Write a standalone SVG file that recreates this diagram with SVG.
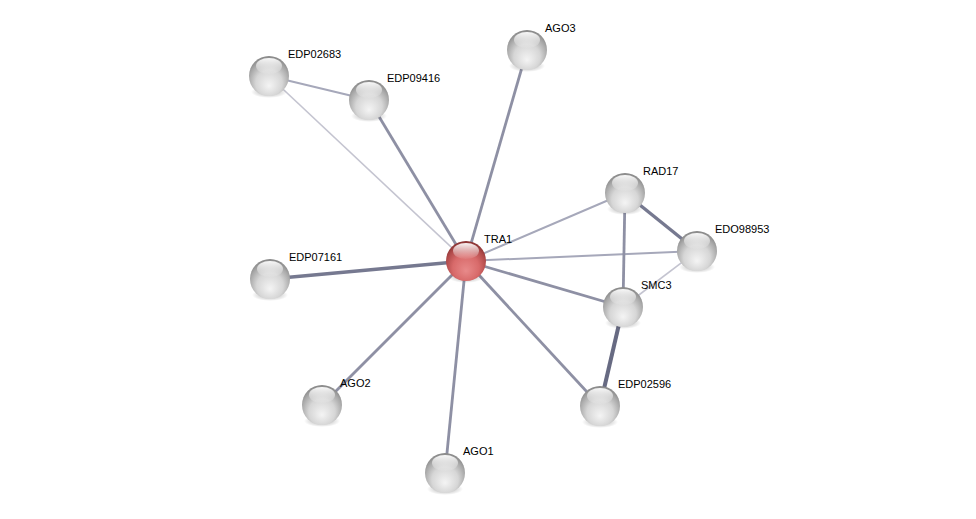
<svg xmlns="http://www.w3.org/2000/svg" width="976" height="519" viewBox="0 0 976 519">
<defs>
<radialGradient id="gw" cx="0.5" cy="0.62" r="0.6" fx="0.5" fy="0.75">
<stop offset="0" stop-color="#f4f4f4"/>
<stop offset="0.55" stop-color="#d6d6d6"/>
<stop offset="0.85" stop-color="#a8a8a8"/>
<stop offset="1" stop-color="#8a8a8a"/>
</radialGradient>
<radialGradient id="gr" cx="0.5" cy="0.62" r="0.6" fx="0.5" fy="0.75">
<stop offset="0" stop-color="#e88a8a"/>
<stop offset="0.55" stop-color="#d86a6a"/>
<stop offset="0.85" stop-color="#b04a4a"/>
<stop offset="1" stop-color="#8a3434"/>
</radialGradient>
<linearGradient id="hl" x1="0" y1="0" x2="0" y2="1">
<stop offset="0" stop-color="#ffffff" stop-opacity="0.95"/>
<stop offset="1" stop-color="#ffffff" stop-opacity="0.05"/>
</linearGradient>
<radialGradient id="sh" cx="0.5" cy="0.5" r="0.5">
<stop offset="0" stop-color="#000" stop-opacity="0.35"/>
<stop offset="1" stop-color="#000" stop-opacity="0"/>
</radialGradient>
</defs>
<style>
.lbl{font-family:"Liberation Sans",Arial,sans-serif;font-size:11px;fill:#000}
.e1{stroke:#c4c4d0;stroke-width:1.6;fill:none}
.e2{stroke:#a6a8ba;stroke-width:2;fill:none}
.e3{stroke:#8e90a4;stroke-width:2.8;fill:none}
.e4{stroke:#767990;stroke-width:3.4;fill:none}
.e5{stroke:#676a82;stroke-width:4;fill:none}
</style>
<rect width="976" height="519" fill="#ffffff"/>
<g id="edges">
<line class="e1" x1="466" y1="261" x2="269" y2="76"/>
<line class="e2" x1="269" y1="76" x2="369" y2="100"/>
<line class="e3" x1="466" y1="261" x2="369" y2="100"/>
<line class="e3" x1="466" y1="261" x2="527" y2="50"/>
<line class="e2" x1="466" y1="261" x2="625" y2="193"/>
<line class="e2" x1="466" y1="261" x2="697" y2="251"/>
<line class="e3" x1="466" y1="261" x2="623" y2="307"/>
<line class="e3" x1="466" y1="261" x2="600" y2="406"/>
<line class="e4" x1="466" y1="261" x2="270" y2="279"/>
<line class="e3" x1="466" y1="261" x2="322" y2="405"/>
<line class="e3" x1="466" y1="261" x2="445" y2="473"/>
<line class="e4" x1="625" y1="193" x2="697" y2="251"/>
<line class="e3" x1="625" y1="193" x2="623" y2="307"/>
<line class="e1" x1="623" y1="307" x2="697" y2="251"/>
<line class="e5" x1="623" y1="307" x2="600" y2="406"/>
</g>
<g id="AGO3"><ellipse cx="527" cy="66" rx="18" ry="6" fill="url(#sh)"/><circle cx="527" cy="50" r="20" fill="url(#gw)"/><ellipse cx="527" cy="40" rx="13" ry="8" fill="url(#hl)"/><text class="lbl" x="545" y="32">AGO3</text></g>
<g id="EDP02683"><ellipse cx="269" cy="92" rx="18" ry="6" fill="url(#sh)"/><circle cx="269" cy="76" r="20" fill="url(#gw)"/><ellipse cx="269" cy="66" rx="13" ry="8" fill="url(#hl)"/><text class="lbl" x="288" y="58">EDP02683</text></g>
<g id="EDP09416"><ellipse cx="369" cy="116" rx="18" ry="6" fill="url(#sh)"/><circle cx="369" cy="100" r="20" fill="url(#gw)"/><ellipse cx="369" cy="90" rx="13" ry="8" fill="url(#hl)"/><text class="lbl" x="387" y="82">EDP09416</text></g>
<g id="RAD17"><ellipse cx="625" cy="209" rx="18" ry="6" fill="url(#sh)"/><circle cx="625" cy="193" r="20" fill="url(#gw)"/><ellipse cx="625" cy="183" rx="13" ry="8" fill="url(#hl)"/><text class="lbl" x="643" y="175">RAD17</text></g>
<g id="EDO98953"><ellipse cx="697" cy="267" rx="18" ry="6" fill="url(#sh)"/><circle cx="697" cy="251" r="20" fill="url(#gw)"/><ellipse cx="697" cy="241" rx="13" ry="8" fill="url(#hl)"/><text class="lbl" x="715" y="233">EDO98953</text></g>
<g id="EDP07161"><ellipse cx="270" cy="295" rx="18" ry="6" fill="url(#sh)"/><circle cx="270" cy="279" r="20" fill="url(#gw)"/><ellipse cx="270" cy="269" rx="13" ry="8" fill="url(#hl)"/><text class="lbl" x="289" y="261">EDP07161</text></g>
<g id="SMC3"><ellipse cx="623" cy="323" rx="18" ry="6" fill="url(#sh)"/><circle cx="623" cy="307" r="20" fill="url(#gw)"/><ellipse cx="623" cy="297" rx="13" ry="8" fill="url(#hl)"/><text class="lbl" x="641" y="289">SMC3</text></g>
<g id="EDP02596"><ellipse cx="600" cy="422" rx="18" ry="6" fill="url(#sh)"/><circle cx="600" cy="406" r="20" fill="url(#gw)"/><ellipse cx="600" cy="396" rx="13" ry="8" fill="url(#hl)"/><text class="lbl" x="618" y="388">EDP02596</text></g>
<g id="AGO2"><ellipse cx="322" cy="421" rx="18" ry="6" fill="url(#sh)"/><circle cx="322" cy="405" r="20" fill="url(#gw)"/><ellipse cx="322" cy="395" rx="13" ry="8" fill="url(#hl)"/><text class="lbl" x="340" y="387">AGO2</text></g>
<g id="AGO1"><ellipse cx="445" cy="489" rx="18" ry="6" fill="url(#sh)"/><circle cx="445" cy="473" r="20" fill="url(#gw)"/><ellipse cx="445" cy="463" rx="13" ry="8" fill="url(#hl)"/><text class="lbl" x="463" y="455">AGO1</text></g>
<g id="TRA1"><ellipse cx="466" cy="277" rx="18" ry="6" fill="url(#sh)"/><circle cx="466" cy="261" r="20" fill="url(#gr)"/><ellipse cx="466" cy="251" rx="13" ry="8" fill="url(#hl)"/><text class="lbl" x="484" y="243">TRA1</text></g>
</svg>
